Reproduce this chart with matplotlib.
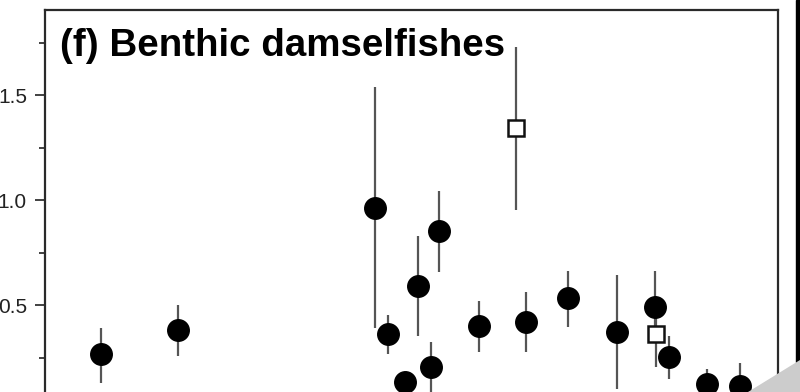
import matplotlib
matplotlib.use('Agg')
import matplotlib.pyplot as plt
from matplotlib.patches import Polygon, Rectangle

plt.rcParams['font.family'] = ['Liberation Sans', 'DejaVu Sans']

# site positions (relative units) and abundance estimates with interval bounds
x_circ = [7.6, 18.1, 45.0, 46.8, 49.1, 50.9, 52.7, 53.8, 59.2, 65.6,
          71.4, 78.0, 83.2, 85.1, 90.3, 94.8]
y_circ = [0.267, 0.381, 0.962, 0.362, 0.133, 0.590, 0.205, 0.852, 0.400, 0.419,
          0.533, 0.371, 0.490, 0.252, 0.124, 0.114]
lo_circ = [0.129, 0.257, 0.390, 0.267, 0.060, 0.352, 0.080, 0.657, 0.276, 0.276,
           0.395, 0.100, 0.330, 0.148, 0.050, 0.000]
hi_circ = [0.390, 0.500, 1.538, 0.452, 0.170, 0.829, 0.324, 1.043, 0.519, 0.562,
           0.662, 0.643, 0.662, 0.352, 0.195, 0.224]

x_sq = [64.3, 83.4]
y_sq = [1.343, 0.362]
lo_sq = [0.952, 0.205]
hi_sq = [1.729, 0.450]

yticks = [0.5, 1.0, 1.5]
yminor = [0.25, 0.75, 1.25, 1.75]
title = '(f) Benthic damselfishes'

fig = plt.figure(figsize=(8, 3.92), dpi=100)
ax = fig.add_axes([45 / 800, 1 - 10 / 392 - 400 / 392, 733 / 800, 400 / 392])

err_kw = dict(fmt='none', ecolor='#555555', elinewidth=1.6, capsize=0, zorder=1)
ax.errorbar(x_circ, y_circ,
            yerr=[[y - l for y, l in zip(y_circ, lo_circ)],
                  [h - y for y, h in zip(y_circ, hi_circ)]], **err_kw)
ax.errorbar(x_sq, y_sq,
            yerr=[[y - l for y, l in zip(y_sq, lo_sq)],
                  [h - y for y, h in zip(y_sq, hi_sq)]], **err_kw)

ax.plot(x_circ, y_circ, 'o', ms=15.5, color='black', zorder=3)
ax.plot(x_sq, y_sq, 's', ms=11, mfc='white', mec='#111111', mew=1.8, zorder=3)

ax.set_xlim(0, 100)
ax.set_ylim(0, 1.905)
ax.set_xticks([])
ax.set_yticks(yticks)
ax.set_yticklabels(['0.5', '1.0', '1.5'])
ax.set_yticks(yminor, minor=True)
ax.tick_params(axis='y', which='major', length=7, width=1.3, pad=6,
               labelsize=15, color='#333333', labelcolor='#222222')
ax.tick_params(axis='y', which='minor', length=4, width=1.3, color='#333333')
for side in ['left', 'top', 'right', 'bottom']:
    ax.spines[side].set_linewidth(1.6)
    ax.spines[side].set_color('#2a2a2a')

ax.text(0.02, 0.91, title, transform=ax.transAxes, fontsize=27.7,
        fontweight='bold', ha='left', va='center')

# edge of the neighbouring panel and the page-corner shading
fig.add_artist(Rectangle((796 / 800, 30 / 392), 4 / 800, 362 / 392,
                         transform=fig.transFigure, color='black'))
fig.add_artist(Polygon([(748 / 800, 0), (800 / 800, 0), (800 / 800, 32 / 392)],
                       closed=True, transform=fig.transFigure,
                       facecolor='#cccccc', edgecolor='none'))

fig.savefig('out.png', dpi=100)
